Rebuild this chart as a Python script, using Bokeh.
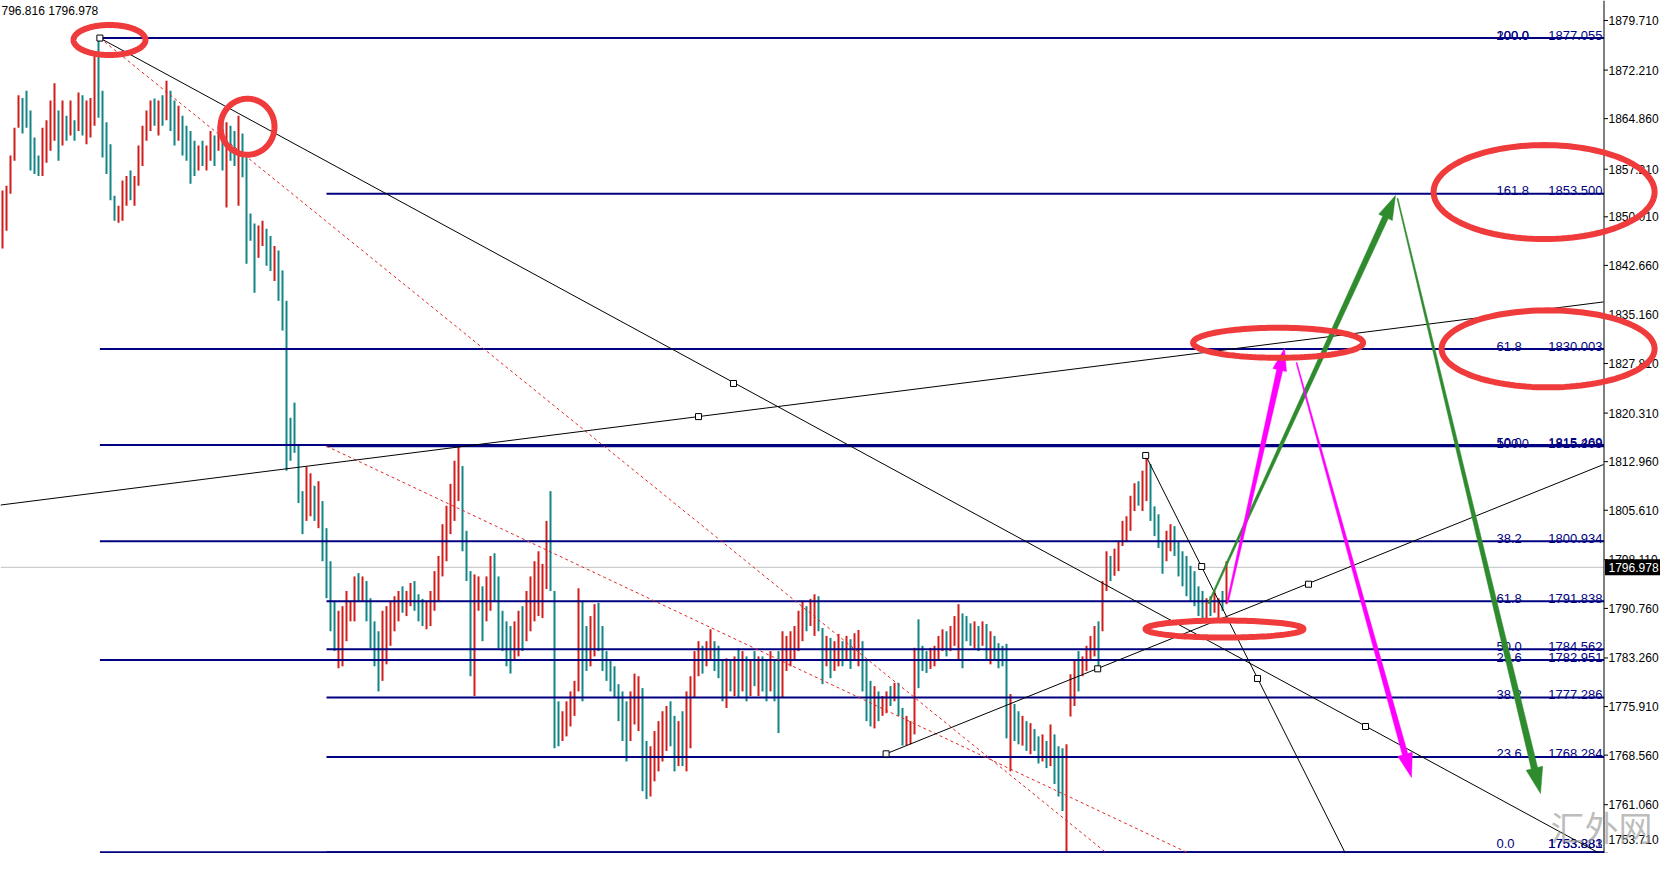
import math
from bokeh.plotting import figure
from bokeh.models import Range1d, ColumnDataSource, PolyAnnotation
from bokeh.core.properties import value
from bokeh.embed import file_html
from bokeh.resources import INLINE

# ---------------- data ----------------
HIGH = [1854.0, 1854.7, 1859.3, 1863.5, 1868.4, 1868.0, 1869.1, 1866.1, 1862.0, 1859.3,
        1863.5, 1864.6, 1867.6, 1870.2, 1866.1, 1867.6, 1865.3, 1867.6, 1864.6, 1868.8,
        1868.4, 1867.6, 1868.0, 1874.4, 1877.055, 1869.1, 1864.3, 1861.0, 1853.2, 1851.7,
        1855.5, 1856.2, 1857.0, 1856.2, 1860.8, 1863.8, 1866.1, 1867.6, 1867.9, 1867.6,
        1868.4, 1870.6, 1869.1, 1867.6, 1866.8, 1865.3, 1863.8, 1863.0, 1861.5, 1860.8,
        1861.5, 1860.8, 1863.0, 1862.3, 1863.8, 1864.6, 1864.3, 1863.8, 1863.0, 1865.3,
        1862.6, 1859.0, 1850.5, 1849.0, 1848.7, 1849.4, 1848.2, 1847.1, 1845.6, 1844.9,
        1841.9, 1837.3, 1819.6, 1821.9, 1815.6, 1808.5, 1812.2, 1811.2, 1809.3, 1810.0,
        1807.0, 1802.9, 1797.9, 1791.9, 1790.4, 1791.1, 1793.4, 1791.9, 1795.6, 1796.1,
        1795.6, 1794.9, 1792.3, 1788.8, 1787.3, 1790.4, 1791.1, 1791.9, 1792.6, 1793.4,
        1794.1, 1793.4, 1794.6, 1794.9, 1792.9, 1792.2, 1791.9, 1793.4, 1796.4, 1798.7,
        1803.5, 1806.3, 1809.6, 1813.1, 1815.3, 1812.3, 1802.5, 1796.4, 1795.9, 1795.6,
        1794.1, 1795.6, 1798.7, 1799.1, 1795.6, 1790.4, 1788.8, 1788.1, 1788.8, 1790.4,
        1791.1, 1793.4, 1795.6, 1797.9, 1799.4, 1797.5, 1804.0, 1808.5, 1793.4, 1776.7,
        1775.2, 1776.7, 1778.2, 1779.8, 1793.8, 1791.9, 1788.1, 1789.6, 1791.4, 1791.6,
        1788.1, 1784.3, 1782.8, 1782.0, 1779.3, 1778.2, 1776.7, 1778.2, 1780.9, 1780.5,
        1778.7, 1770.7, 1769.9, 1772.2, 1773.7, 1775.2, 1776.0, 1776.7, 1774.5, 1773.7,
        1775.2, 1778.2, 1780.5, 1784.3, 1785.8, 1785.1, 1785.8, 1787.6, 1785.8, 1785.1,
        1782.8, 1783.2, 1782.8, 1783.5, 1784.7, 1784.3, 1783.5, 1782.8, 1784.3, 1783.5,
        1783.5, 1782.8, 1784.3, 1782.8, 1784.3, 1787.3, 1786.6, 1787.3, 1788.1, 1790.4,
        1791.9, 1791.1, 1792.2, 1792.9, 1792.6, 1787.8, 1786.6, 1786.3, 1785.8, 1786.9,
        1785.8, 1786.6, 1786.1, 1787.0, 1787.5, 1785.8, 1782.8, 1779.8, 1779.0, 1778.2,
        1777.5, 1778.2, 1779.0, 1779.5, 1779.5, 1775.7, 1774.5, 1773.7, 1784.8, 1789.1,
        1785.1, 1784.3, 1784.8, 1785.1, 1786.6, 1787.6, 1787.3, 1788.1, 1789.6, 1791.4,
        1790.0, 1789.6, 1788.5, 1788.8, 1788.1, 1788.8, 1788.4, 1787.3, 1786.6, 1785.5,
        1785.1, 1785.4, 1777.8, 1776.3, 1775.2, 1774.5, 1773.7, 1773.4, 1772.5, 1771.4,
        1771.7, 1770.7, 1773.2, 1771.7, 1769.9, 1769.6, 1770.2, 1780.8, 1782.8, 1784.3,
        1783.5, 1785.1, 1786.6, 1788.1, 1788.8, 1794.9, 1799.4, 1798.7, 1799.8, 1801.0,
        1804.0, 1804.7, 1807.8, 1809.7, 1810.0, 1811.6, 1813.8, 1812.6, 1806.2, 1805.0,
        1801.0, 1802.5, 1803.5, 1803.2, 1801.0, 1799.4, 1798.7, 1797.2, 1796.4, 1794.1,
        1793.4, 1792.3, 1792.6, 1793.4, 1792.3, 1793.4, 1797.9]
LOW = [1845.2, 1847.9, 1853.5, 1858.5, 1863.5, 1862.6, 1863.5, 1857.0, 1856.5, 1856.2,
       1856.2, 1858.2, 1860.0, 1861.5, 1858.5, 1860.8, 1861.5, 1862.3, 1861.5, 1863.0,
       1862.3, 1861.0, 1862.0, 1863.8, 1865.0, 1859.0, 1856.5, 1852.5, 1849.4, 1849.1,
       1849.4, 1851.7, 1852.5, 1851.7, 1854.7, 1857.7, 1861.5, 1863.0, 1863.8, 1862.3,
       1863.8, 1864.6, 1863.0, 1860.8, 1861.5, 1859.3, 1858.5, 1855.0, 1856.2, 1857.0,
       1857.7, 1857.0, 1858.5, 1857.7, 1860.0, 1857.0, 1851.4, 1858.5, 1857.7, 1851.7,
       1856.0, 1842.9, 1846.4, 1838.5, 1843.8, 1845.6, 1842.6, 1841.8, 1840.3, 1837.3,
       1832.8, 1811.6, 1813.1, 1814.3, 1806.7, 1802.0, 1804.0, 1804.7, 1804.0, 1802.9,
       1797.9, 1792.3, 1787.3, 1784.3, 1781.7, 1782.0, 1785.8, 1788.8, 1788.8, 1791.9,
       1791.9, 1788.8, 1784.7, 1782.0, 1778.2, 1779.8, 1782.3, 1785.1, 1787.3, 1788.8,
       1790.1, 1789.6, 1791.1, 1790.4, 1788.8, 1788.1, 1787.6, 1788.1, 1790.4, 1791.9,
       1795.6, 1797.9, 1802.0, 1804.0, 1807.0, 1799.4, 1794.9, 1780.5, 1777.5, 1790.4,
       1785.8, 1788.8, 1790.4, 1791.9, 1784.7, 1784.3, 1782.0, 1780.9, 1782.8, 1783.5,
       1784.3, 1785.8, 1787.3, 1788.8, 1789.6, 1789.3, 1793.7, 1793.4, 1769.6, 1769.9,
       1770.7, 1771.4, 1772.9, 1774.5, 1778.2, 1776.7, 1781.3, 1782.0, 1783.5, 1784.3,
       1781.3, 1779.8, 1778.2, 1777.2, 1773.7, 1770.7, 1767.6, 1770.7, 1773.2, 1772.2,
       1763.1, 1761.9, 1762.3, 1764.6, 1766.1, 1767.6, 1769.2, 1769.9, 1766.1, 1766.9,
       1766.9, 1766.1, 1769.6, 1777.2, 1780.5, 1780.9, 1782.0, 1782.8, 1781.3, 1780.2,
       1776.7, 1775.7, 1778.2, 1777.5, 1777.2, 1778.2, 1776.7, 1777.5, 1779.0, 1777.5,
       1778.2, 1776.7, 1778.2, 1776.7, 1771.9, 1777.2, 1781.3, 1782.0, 1782.8, 1784.3,
       1785.8, 1787.3, 1788.1, 1786.6, 1787.3, 1779.3, 1782.0, 1780.2, 1781.3, 1782.0,
       1782.0, 1782.8, 1781.6, 1782.8, 1782.0, 1778.2, 1773.7, 1772.9, 1772.6, 1773.7,
       1774.5, 1774.9, 1776.0, 1776.7, 1774.5, 1770.0, 1770.0, 1770.2, 1771.7, 1778.7,
       1781.3, 1781.0, 1781.6, 1782.0, 1783.1, 1784.3, 1783.5, 1784.3, 1785.1, 1782.8,
       1781.7, 1785.8, 1785.1, 1784.7, 1784.3, 1785.1, 1782.8, 1782.3, 1782.8, 1781.7,
       1782.0, 1771.1, 1766.1, 1770.7, 1770.2, 1770.0, 1769.2, 1768.7, 1769.2, 1767.3,
       1767.6, 1766.6, 1766.9, 1764.2, 1762.3, 1760.1, 1753.9, 1774.4, 1776.0, 1778.2,
       1780.5, 1781.3, 1782.8, 1783.5, 1781.6, 1787.3, 1793.4, 1794.9, 1795.7, 1796.4,
       1800.2, 1800.9, 1802.5, 1805.5, 1806.3, 1805.5, 1807.0, 1804.0, 1801.7, 1799.9,
       1796.0, 1797.9, 1799.4, 1798.7, 1795.6, 1794.1, 1792.6, 1791.9, 1791.1, 1789.6,
       1789.3, 1789.3, 1789.6, 1790.1, 1789.3, 1790.4, 1791.4]
UP = [1, 1, 1, 1, 1, 0, 0, 0, 0, 0, 1, 1, 1, 1, 0, 1, 0, 1, 0, 1,
      0, 1, 1, 1, 0, 0, 0, 0, 0, 1, 1, 1, 0, 1, 1, 1, 1, 1, 0, 1,
      0, 1, 0, 0, 1, 0, 0, 0, 0, 1, 0, 1, 1, 0, 1, 0, 1, 0, 0, 1,
      0, 0, 0, 0, 1, 1, 0, 0, 1, 0, 0, 0, 0, 0, 0, 0, 1, 1, 0, 1,
      0, 0, 0, 0, 1, 1, 1, 1, 1, 0, 1, 0, 0, 0, 0, 1, 1, 1, 1, 1,
      0, 1, 1, 0, 0, 0, 1, 1, 1, 1, 1, 1, 1, 1, 1, 0, 0, 0, 1, 1,
      0, 1, 1, 0, 0, 0, 0, 0, 1, 1, 0, 1, 1, 1, 1, 1, 1, 0, 0, 0,
      1, 1, 1, 1, 1, 0, 0, 1, 1, 0, 0, 0, 0, 0, 0, 0, 0, 1, 1, 1,
      0, 0, 1, 1, 1, 1, 1, 0, 0, 1, 0, 1, 1, 1, 1, 0, 1, 1, 0, 0,
      0, 1, 0, 1, 0, 1, 0, 1, 0, 1, 0, 0, 1, 0, 0, 1, 1, 1, 1, 1,
      1, 0, 1, 1, 0, 0, 1, 0, 1, 1, 0, 1, 0, 1, 1, 0, 0, 0, 1, 0,
      1, 1, 0, 1, 0, 0, 1, 1, 1, 0, 0, 0, 1, 1, 1, 1, 0, 1, 1, 1,
      0, 0, 0, 1, 0, 1, 0, 1, 0, 0, 0, 0, 1, 0, 0, 1, 0, 1, 0, 0,
      1, 0, 1, 0, 0, 0, 1, 1, 1, 0, 1, 1, 1, 1, 0, 1, 1, 0, 1, 1,
      1, 1, 1, 1, 0, 1, 1, 0, 0, 0, 0, 1, 1, 0, 0, 0, 0, 0, 0, 0,
      0, 1, 0, 1, 1, 0, 1]

TICKS = [1879.710, 1872.210, 1864.860, 1857.210, 1850.010, 1842.660, 1835.160, 1827.810,
         1820.310, 1812.960, 1805.610, 1798.110, 1790.760, 1783.260, 1775.910, 1768.560,
         1761.060, 1753.710]

FIB_A_NAMES = ["0.0", "23.6", "38.2", "50.0", "61.8", "100.0"]
FIB_A_PRICES = [1753.883, 1782.951, 1800.934, 1815.469, 1830.003, 1877.055]
FIB_A_START = 24.35
FIB_B_NAMES = ["0.0", "23.6", "38.2", "50.0", "61.8", "100.0", "161.8", "200.0"]
FIB_B_PRICES = [1753.881, 1768.284, 1777.286, 1784.562, 1791.838, 1815.309, 1853.500, 1877.055]
FIB_B_START = 81.0

LAST_PRICE = 1796.978
QUOTE_TEXT = "796.816 1796.978"
WATERMARK = "汇外网"

# trend lines: (bar index, price) endpoints
TL_X0 = [24.35, -0.5, 220.9, 285.8]
TL_Y0 = [1877.055, 1806.40, 1768.76, 1813.9]
TL_X1 = [400.25, 400.25, 400.25, 337.75]
TL_Y1 = [1753.37, 1837.13, 1812.53, 1751.26]
ANCHOR_X = [24.35, 182.75, 340.75, 174.0, 220.9, 273.8, 326.5, 285.8, 299.8, 313.75]
ANCHOR_Y = [1877.055, 1824.79, 1772.89, 1819.78, 1768.76, 1781.62, 1794.42, 1813.9, 1797.1, 1780.16]
# fibo diagonals (dashed)
FD_X0 = [24.35, 81.0]
FD_Y0 = [1877.055, 1815.309]
FD_X1 = [275.75, 296.0]
FD_Y1 = [1753.883, 1753.881]
# arrows: tail -> tip
AR_X0 = [301.5, 348.75, 306.25, 323.5]
AR_Y0 = [1791.50, 1852.78, 1791.65, 1827.96]
AR_X1 = [348.25, 384.5, 320.5, 352.25]
AR_Y1 = [1853.23, 1762.75, 1830.08, 1765.18]
AR_COLOR = ["#2e8b2e", "#2e8b2e", "#ff00ff", "#ff00ff"]
# ellipse highlights: centre (bar index, price)
EL_X = [26.75, 61.25, 318.9, 305.5, 385.4, 386.4]
EL_Y = [1876.76, 1863.64, 1830.95, 1787.64, 1853.75, 1830.03]

# ---------------- figure ----------------
X0, X1 = -0.5, 414.5
Y0, Y1 = 1753.677, 1882.736
FW, FH = 1660, 853
KX = FW / (X1 - X0)
KY = FH / (Y1 - Y0)
AX = 400.25 + 0.5 / KX     # price-scale line

p = figure(frame_width=FW, frame_height=FH, x_range=Range1d(X0, X1), y_range=Range1d(Y0, Y1),
           x_axis_location=None, y_axis_location=None, toolbar_location=None,
           output_backend="svg", min_border=0, outline_line_color=None,
           background_fill_color="white", border_fill_color="white")
p.grid.visible = False

FONT = value("Liberation Sans")

# current price line
p.segment(x0=[X0], y0=[LAST_PRICE], x1=[AX], y1=[LAST_PRICE], line_color="#c0c0c0", line_width=1)

# bars
xs = list(range(len(HIGH)))
src = ColumnDataSource(dict(x=xs, hi=HIGH, lo=LOW,
                            c=["#d21c1c" if u else "#128585" for u in UP]))
p.segment(x0="x", y0="lo", x1="x", y1="hi", line_color="c", line_width=2, source=src)

# fibonacci levels
NAVY = "#000080"
p.segment(x0=[FIB_A_START] * len(FIB_A_PRICES), y0=FIB_A_PRICES, x1=[AX] * len(FIB_A_PRICES),
          y1=FIB_A_PRICES, line_color=NAVY, line_width=2)
p.segment(x0=[FIB_B_START] * len(FIB_B_PRICES), y0=FIB_B_PRICES, x1=[AX] * len(FIB_B_PRICES),
          y1=FIB_B_PRICES, line_color=NAVY, line_width=2)

# level captions (identical overlapping captions are written once)
cap_name, cap_name_y, cap_price, cap_price_y = [], [], [], []
for n, v in zip(FIB_A_NAMES + FIB_B_NAMES, FIB_A_PRICES + FIB_B_PRICES):
    key = (n, round(v, 1))
    if key not in [(a, round(b, 1)) for a, b in zip(cap_name, cap_name_y)]:
        cap_name.append(n)
        cap_name_y.append(v)
    s = "%.3f" % v
    if s not in cap_price:
        cap_price.append(s)
        cap_price_y.append(v)
LIFT = 3.0 / KY
floor_y = Y0 + 10.0 / KY
name_y = [max(v + LIFT, floor_y) for v in cap_name_y]
price_y = [max(v + LIFT, floor_y) for v in cap_price_y]
p.text(x=[373.5] * len(cap_name), y=name_y, text=cap_name, text_align="left",
       text_baseline="alphabetic", text_color=NAVY, text_font=FONT, text_font_size="13px")
p.text(x=[400.0] * len(cap_price), y=price_y, text=cap_price, text_align="right",
       text_baseline="alphabetic", text_color=NAVY, text_font=FONT, text_font_size="13px")

# fibo diagonals
p.segment(x0=FD_X0, y0=FD_Y0, x1=FD_X1, y1=FD_Y1, line_color="#e02828", line_width=1,
          line_dash="3 3")
# trend lines
p.segment(x0=TL_X0, y0=TL_Y0, x1=TL_X1, y1=TL_Y1, line_color="black", line_width=1)
p.scatter(x=ANCHOR_X, y=ANCHOR_Y, marker="square", size=6, fill_color="white",
          line_color="black", line_width=1)

# price scale (drawn on the right of the chart)
p.segment(x0=[AX], y0=[Y0], x1=[AX], y1=[Y1], line_color="black", line_width=1)
p.segment(x0=[AX] * len(TICKS), y0=TICKS, x1=[AX + 4 / KX] * len(TICKS), y1=TICKS,
          line_color="black", line_width=1)
lab_y = [min(max(t, Y0 + 14 / KY), Y1 - 10 / KY) for t in TICKS]
p.text(x=[AX + 4.5 / KX] * len(TICKS), y=lab_y, text=["%.3f" % t for t in TICKS],
       text_align="left", text_baseline="middle", text_color="black",
       text_font=FONT, text_font_size="12px")

# current price box
p.quad(left=[AX + 1 / KX], right=[X1], top=[LAST_PRICE + 8 / KY], bottom=[LAST_PRICE - 8 / KY],
       fill_color="black", line_color=None)
p.text(x=[AX + 4.5 / KX], y=[LAST_PRICE], text=["%.3f" % LAST_PRICE], text_align="left",
       text_baseline="middle", text_color="white", text_font=FONT, text_font_size="12px")

# tapered arrows
def arrow_poly(x0, y0, x1, y1, w0, w1, hw, hl):
    ax_, ay_ = x0 * KX, y0 * KY
    bx, by = x1 * KX, y1 * KY
    dx, dy = bx - ax_, by - ay_
    L = math.hypot(dx, dy)
    ux, uy = dx / L, dy / L
    nx, ny = -uy, ux
    cx, cy = bx - ux * hl, by - uy * hl
    pts = [(ax_ + nx * w0 / 2, ay_ + ny * w0 / 2), (cx + nx * w1 / 2, cy + ny * w1 / 2),
           (cx + nx * hw / 2, cy + ny * hw / 2), (bx, by),
           (cx - nx * hw / 2, cy - ny * hw / 2), (cx - nx * w1 / 2, cy - ny * w1 / 2),
           (ax_ - nx * w0 / 2, ay_ - ny * w0 / 2)]
    return [q[0] / KX for q in pts], [q[1] / KY for q in pts]

AR_STYLE = [(1.5, 6.0, 15, 24), (1.0, 6.5, 17, 26), (1.5, 6.0, 14, 22), (1.0, 5.5, 15, 24)]
pxs, pys = [], []
for i in range(len(AR_X0)):
    w0, w1, hw, hl = AR_STYLE[i]
    a, b = arrow_poly(AR_X0[i], AR_Y0[i], AR_X1[i], AR_Y1[i], w0, w1, hw, hl)
    pxs.append(a)
    pys.append(b)
p.patches(xs=pxs, ys=pys, fill_color=AR_COLOR, line_color=AR_COLOR, line_width=0.5)

# red ellipses
EL_R = [(36, 15), (27, 28), (85, 15), (79, 8.5), (110.5, 47), (106.5, 38.5)]
for i in range(len(EL_X)):
    rx, ry = EL_R[i]
    ex = [EL_X[i] + rx * math.cos(2 * math.pi * k / 120) / KX for k in range(120)]
    ey = [EL_Y[i] + ry * math.sin(2 * math.pi * k / 120) / KY for k in range(120)]
    p.add_layout(PolyAnnotation(xs=ex, ys=ey, line_color="#ef3b3b", line_alpha=1.0,
                                line_width=6, fill_alpha=0, fill_color=None))

# texts
p.text(x=[X0 + 1 / KX], y=[Y1 - 3 / KY], text=[QUOTE_TEXT], text_baseline="top", text_align="left",
       text_font=FONT, text_font_size="12px", text_color="black")
p.text(x=[387.0], y=[Y0 + 52 / KY], text=[WATERMARK], text_baseline="top", text_align="left",
       text_font=value("Noto Sans CJK SC"), text_font_size="34px",
       text_color="#a0a0a0", text_alpha=0.7)

open("out.html", "w").write(file_html(p, INLINE))
